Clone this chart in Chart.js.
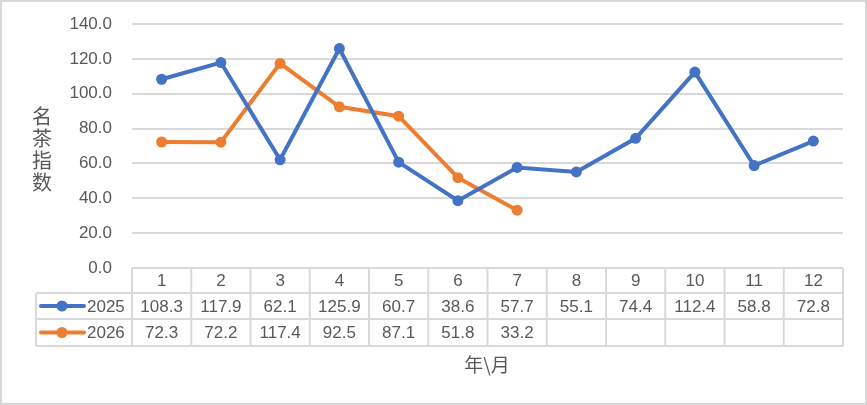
<!DOCTYPE html>
<html>
<head>
<meta charset="utf-8">
<script src="https://cdn.jsdelivr.net/npm/chart.js@4/dist/chart.umd.min.js"></script>
<style>
  html, body { margin: 0; padding: 0; background: #fff; }
  #wrap { width: 867px; height: 405px; position: relative; }
</style>
</head>
<body>
<div id="wrap"><canvas id="myChart" width="867" height="405"></canvas></div>
<script>
// chart data
const months = ['1', '2', '3', '4', '5', '6', '7', '8', '9', '10', '11', '12']
const seriesNames = ['2025', '2026']
const values2025 = [108.3, 117.9, 62.1, 125.9, 60.7, 38.6, 57.7, 55.1, 74.4, 112.4, 58.8, 72.8]
const values2026 = [72.3, 72.2, 117.4, 92.5, 87.1, 51.8, 33.2, null, null, null, null, null]
const yTitle = '名茶指数'
const xTitle = '年\\月'

const colors = ['#4472C4', '#ED7D31']
const textColor = '#595959'
const lineColor = '#D9D9D9'
const font = '17px "Liberation Sans", Arial, sans-serif'

// draws the data table under the plot, the axis titles and the border
const tablePlugin = {
    id: 'dataTable',
    afterDraw(chart) {
        const ctx = chart.ctx
        const area = chart.chartArea
        const xs = chart.scales.x
        const colW = (area.right - area.left) / months.length
        const rowTop = area.bottom
        const rows = [rowTop, rowTop + 25, rowTop + 51, rowTop + 78]
        const legendLeft = 36
        ctx.save()
        ctx.strokeStyle = lineColor
        ctx.lineWidth = 2
        ctx.beginPath()
        // horizontal lines
        ctx.moveTo(area.left, rows[0]); ctx.lineTo(area.right, rows[0])
        for (let r = 1; r < rows.length; r++) {
            ctx.moveTo(legendLeft, rows[r]); ctx.lineTo(area.right, rows[r])
        }
        // vertical lines
        for (let i = 0; i <= months.length; i++) {
            const x = area.left + i * colW
            ctx.moveTo(x, rows[0]); ctx.lineTo(x, rows[3])
        }
        ctx.moveTo(legendLeft, rows[1]); ctx.lineTo(legendLeft, rows[3])
        ctx.stroke()

        ctx.fillStyle = textColor
        ctx.font = font
        ctx.textAlign = 'center'
        ctx.textBaseline = 'middle'
        const allValues = [values2025, values2026]
        months.forEach((m, i) => {
            const x = xs.getPixelForValue(i)
            ctx.fillText(m, x, (rows[0] + rows[1]) / 2 + 1)
            allValues.forEach((vals, s) => {
                if (vals[i] !== null) {
                    ctx.fillText(vals[i].toFixed(1), x, (rows[s + 1] + rows[s + 2]) / 2 + 1)
                }
            })
        })

        // legend keys
        seriesNames.forEach((name, s) => {
            const y = (rows[s + 1] + rows[s + 2]) / 2
            ctx.strokeStyle = colors[s]
            ctx.lineWidth = 4
            ctx.lineCap = 'round'
            ctx.beginPath()
            ctx.moveTo(41, y); ctx.lineTo(84, y)
            ctx.stroke()
            ctx.fillStyle = colors[s]
            ctx.beginPath()
            ctx.arc(62, y, 5.5, 0, Math.PI * 2)
            ctx.fill()
            ctx.fillStyle = textColor
            ctx.textAlign = 'left'
            ctx.fillText(name, 87, y + 1)
        })

        // y title, stacked characters
        ctx.font = '20px "Noto Sans CJK SC", sans-serif'
        ctx.textAlign = 'center'
        Array.from(yTitle).forEach((ch, i) => {
            ctx.fillText(ch, 42, 116 + i * 22)
        })
        // x title
        ctx.font = '19px "Noto Sans CJK SC", sans-serif'
        ctx.fillText(xTitle, 487, 365)

        // outer border
        ctx.strokeStyle = lineColor
        ctx.lineWidth = 2
        ctx.strokeRect(1, 1, chart.width - 2, chart.height - 2)
        ctx.restore()
    }
}

const ctx = document.getElementById('myChart').getContext('2d')
const chart = new Chart(ctx, {
    type: 'line',
    data: {
        labels: months,
        datasets: [values2025, values2026].map((vals, s) => ({
            label: seriesNames[s],
            data: vals,
            borderColor: colors[s],
            backgroundColor: colors[s],
            borderWidth: 4,
            pointRadius: 5.5,
            pointHoverRadius: 5.5,
            pointBorderWidth: 0,
            tension: 0,
            spanGaps: false
        }))
    },
    options: {
        responsive: false,
        animation: false,
        devicePixelRatio: 1,
        layout: { padding: { left: 0, right: 24, top: 24, bottom: 137 } },
        plugins: {
            legend: { display: false },
            tooltip: { enabled: false }
        },
        scales: {
            x: {
                offset: true,
                afterFit(scale) { scale.height = 0 },
                grid: { display: false },
                border: { display: false },
                ticks: { display: false }
            },
            y: {
                min: 0,
                max: 140,
                afterFit(scale) {
                    scale.width = 132
                    scale.paddingTop = 0
                    scale.paddingBottom = 0
                },
                grid: { color: lineColor, lineWidth: 2, drawTicks: false },
                border: { display: false },
                ticks: {
                    stepSize: 20,
                    padding: 20,
                    color: textColor,
                    font: { family: '"Liberation Sans", Arial, sans-serif', size: 17 },
                    callback: v => v.toFixed(1)
                }
            }
        }
    },
    plugins: [tablePlugin]
})
</script>
</body>
</html>
